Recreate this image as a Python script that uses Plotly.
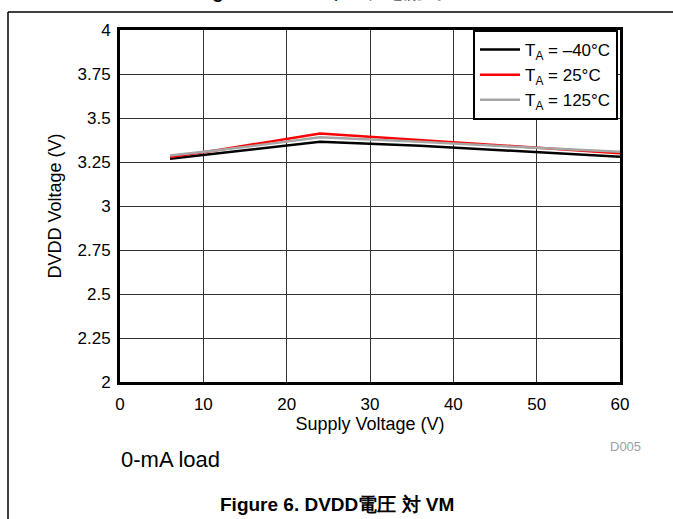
import plotly.graph_objects as go

supply_v = [6, 12, 24, 36, 48, 60]
dvdd_m40 = [3.269, 3.300, 3.365, 3.342, 3.310, 3.280]
dvdd_25 = [3.278, 3.320, 3.412, 3.376, 3.338, 3.300]
dvdd_125 = [3.287, 3.318, 3.390, 3.365, 3.335, 3.308]
series_names = ["T<sub>A</sub> = \u201340\u00b0C", "T<sub>A</sub> = 25\u00b0C", "T<sub>A</sub> = 125\u00b0C"]
series_colors = ["#000000", "#ff0000", "#a6a6a6"]
x_ticks = [0, 10, 20, 30, 40, 50, 60]
y_ticks = [2, 2.25, 2.5, 2.75, 3, 3.25, 3.5, 3.75, 4]
y_tick_text = ["2", "2.25", "2.5", "2.75", "3", "3.25", "3.5", "3.75", "4"]

W, H = 673, 519
L, R, T, B = 120, 620, 30, 382

def px(x):
    return (x - L) / (R - L)

def py(y):
    return (B - y) / (B - T)

FONT = "Liberation Sans, Arial, sans-serif"

fig = go.Figure()
for vals, name, col in zip([dvdd_m40, dvdd_25, dvdd_125], series_names, series_colors):
    fig.add_trace(go.Scatter(x=supply_v, y=vals, mode="lines", name=name,
                             line=dict(color=col, width=2.5)))

fig.update_layout(
    width=W, height=H,
    margin=dict(l=L, r=W - R, t=T, b=H - B, pad=0),
    paper_bgcolor="white", plot_bgcolor="white",
    font=dict(family=FONT, size=17, color="black"),
    showlegend=True,
    legend=dict(x=0.996, y=1.0, xanchor="right", yanchor="top",
                bgcolor="white", bordercolor="black", borderwidth=2,
                font=dict(size=17, family=FONT), tracegroupgap=0,
                itemwidth=40),
    xaxis=dict(range=[0, 60], tickvals=x_ticks, showgrid=True, gridcolor="#333333",
               gridwidth=1, zeroline=False, showline=True, linecolor="black",
               linewidth=3, mirror=True, ticks="", ticklen=0, ticklabelstandoff=5,
               tickfont=dict(size=17, family=FONT),
               title=dict(text="Supply Voltage (V)", font=dict(size=18, family=FONT), standoff=2)),
    yaxis=dict(range=[2, 4], tickvals=y_ticks, ticktext=y_tick_text, showgrid=True,
               gridcolor="#333333", gridwidth=1, zeroline=False, showline=True,
               linecolor="black", linewidth=3, mirror=True, ticks="", ticklen=0,
               ticklabelstandoff=3,
               tickfont=dict(size=17, family=FONT),
               title=dict(text="DVDD Voltage (V)", font=dict(size=18, family=FONT), standoff=12)),
)

# page frame lines
fig.add_shape(type="line", xref="paper", yref="paper", x0=px(8), x1=px(673), y0=py(12), y1=py(12),
              line=dict(color="black", width=1.5), layer="above")
fig.add_shape(type="line", xref="paper", yref="paper", x0=px(8), x1=px(8), y0=py(12), y1=py(519),
              line=dict(color="black", width=1.5), layer="above")

# clipped previous caption
fig.add_annotation(text="<b>Figure 5. VMスリープ電流 対 VM</b>", xref="paper", yref="paper",
                   x=px(337), y=py(4), xanchor="center", yanchor="bottom", showarrow=False,
                   font=dict(size=19, family=FONT))

fig.add_annotation(text="D005", xref="paper", yref="paper", x=px(643), y=py(446),
                   xanchor="right", yanchor="middle", showarrow=False,
                   font=dict(size=13, family=FONT, color="#a0a0a0"))
fig.add_annotation(text="0-mA load", xref="paper", yref="paper", x=px(119), y=py(459),
                   xanchor="left", yanchor="middle", showarrow=False,
                   font=dict(size=22, family=FONT))
fig.add_annotation(text="<b>Figure 6. DVDD電圧 対 VM</b>", xref="paper", yref="paper",
                   x=px(337), y=py(504), xanchor="center", yanchor="middle", showarrow=False,
                   font=dict(size=19, family=FONT))

fig.write_html("out.html")
